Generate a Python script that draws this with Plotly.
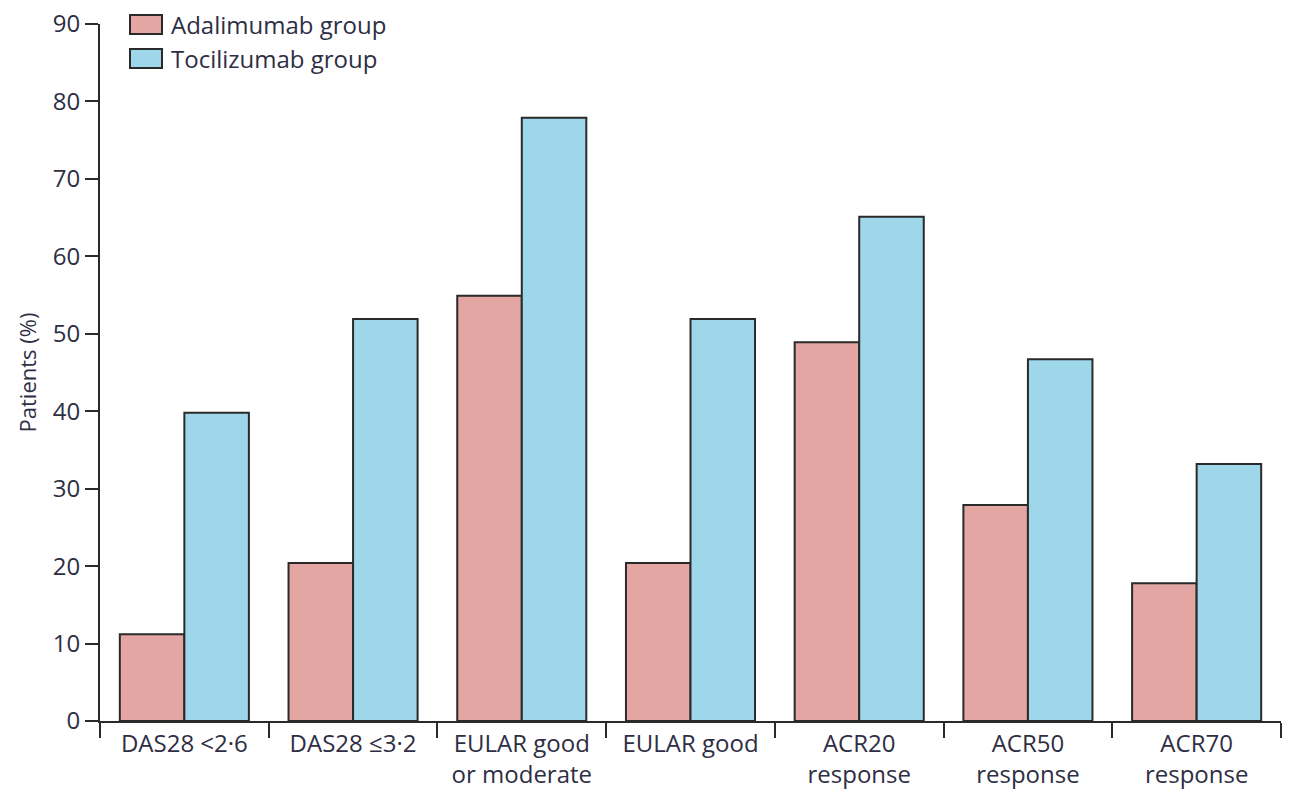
import plotly.graph_objects as go

categories = ["DAS28 <2·6", "DAS28 ≤3·2", "EULAR good<br>or moderate", "EULAR good",
              "ACR20<br>response", "ACR50<br>response", "ACR70<br>response"]
adalimumab = [11.2, 20.4, 54.9, 20.4, 48.9, 27.9, 17.8]
tocilizumab = [39.8, 51.9, 77.9, 51.9, 65.1, 46.7, 33.2]
series_names = ["Adalimumab group", "Tocilizumab group"]
series_colors = ["#E3A6A2", "#9ED7E9"]
y_ticks = [0, 10, 20, 30, 40, 50, 60, 70, 80, 90]

FONT = "Open Sans"
TXT = "#2e2e44"
EDGE = "#2a2a2a"

fig = go.Figure()
for name, vals, col in zip(series_names, [adalimumab, tocilizumab], series_colors):
    fig.add_trace(go.Bar(x=categories, y=vals, name=name,
                         marker=dict(color=col, line=dict(color=EDGE, width=2)),
                         showlegend=False))

# custom legend (large boxes like the reference)
shapes = []
annotations = []
for i, (name, col) in enumerate(zip(series_names, series_colors)):
    y0 = 15 + i * 34
    shapes.append(dict(type="rect", xref="paper", yref="paper",
                       x0=(130 - 100) / 1181, x1=(162 - 100) / 1181,
                       y0=1 + (24 - (y0 + 19)) / 697, y1=1 + (24 - y0) / 697,
                       fillcolor=col, line=dict(color=EDGE, width=2)))
    annotations.append(dict(xref="paper", yref="paper",
                            x=(169 - 100) / 1181, y=1 + (24 - (y0 + 9.5)) / 697,
                            xanchor="left", yanchor="middle", text=name, showarrow=False,
                            font=dict(family=FONT, size=24, color=TXT)))

# page body has an 8px default margin, so compensate in the figure margins
fig.update_layout(
    width=1300, height=804,
    margin=dict(l=92, r=27, t=16, b=91),
    paper_bgcolor="white", plot_bgcolor="white",
    barmode="group", bargap=0.235, bargroupgap=0,
    shapes=shapes, annotations=annotations,
    font=dict(family=FONT, size=24, color=TXT),
)
fig.update_xaxes(
    type="category", range=[-0.5, 6.5], automargin=False,
    showline=True, linecolor=EDGE, linewidth=2,
    ticks="outside", tickson="boundaries", ticklen=15, tickwidth=2, tickcolor=EDGE,
    tickfont=dict(family=FONT, size=24, color=TXT),
    showgrid=False, zeroline=False,
)
fig.update_yaxes(
    range=[0, 90], tickvals=y_ticks, automargin=False, ticklabeloverflow="allow",
    showline=True, linecolor=EDGE, linewidth=2,
    ticks="outside", ticklen=13, tickwidth=2, tickcolor=EDGE,
    tickfont=dict(family=FONT, size=24, color=TXT),
    showgrid=False, zeroline=False,
    title=dict(text="Patients (%)", font=dict(family=FONT, size=22, color=TXT), standoff=10),
)

fig.write_html("out.html")
